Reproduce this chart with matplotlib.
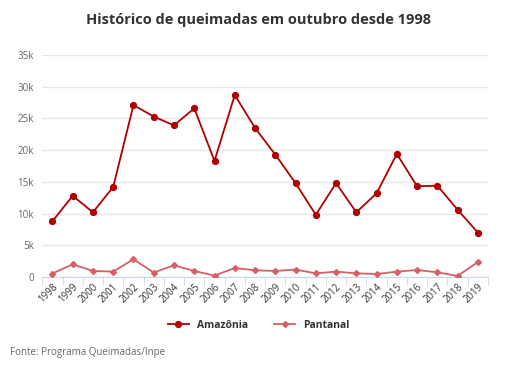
import matplotlib
matplotlib.use("Agg")
import matplotlib.pyplot as plt
from matplotlib.ticker import FixedLocator, FuncFormatter

years = [str(y) for y in range(1998, 2020)]
amazonia = [8.8, 12.8, 10.2, 14.2, 27.1, 25.3, 23.9, 26.6, 18.3, 28.7, 23.5,
            19.3, 14.8, 9.8, 14.8, 10.2, 13.2, 19.4, 14.3, 14.4, 10.6, 7.0]
pantanal = [0.55, 2.0, 0.95, 0.85, 2.8, 0.7, 1.85, 0.95, 0.22, 1.42, 1.06,
            0.95, 1.17, 0.58, 0.85, 0.58, 0.47, 0.85, 1.1, 0.74, 0.16, 2.37]
amazonia = [v * 1000 for v in amazonia]
pantanal = [v * 1000 for v in pantanal]
yticks = [0, 5000, 10000, 15000, 20000, 25000, 30000, 35000]

plt.rcParams['font.family'] = ['Open Sans', 'DejaVu Sans']

fig = plt.figure(figsize=(5.18, 3.66), dpi=100)
ax = fig.add_axes([42.3 / 518, 1 - 277 / 366, (488 - 42.3) / 518, (277 - 55) / 366])

x = list(range(len(years)))
c_am = '#b00000'
c_pa = '#d95f66'
ax.plot(x, amazonia, color=c_am, lw=1.3, marker='o', ms=4.2, label='Amazônia', zorder=3)
ax.plot(x, pantanal, color=c_pa, lw=1.3, marker='D', ms=3, label='Pantanal', zorder=3)

ax.set_xlim(-0.5, len(years) - 0.5)
ax.set_ylim(0, 35000)
ax.yaxis.set_major_locator(FixedLocator(yticks))
ax.yaxis.set_major_formatter(FuncFormatter(lambda v, p: '0' if v == 0 else f'{int(v/1000)}k'))
ax.grid(axis='y', color='#e6e6e6', lw=1)
ax.set_axisbelow(True)
for s in ['top', 'right', 'left']:
    ax.spines[s].set_visible(False)
ax.spines['bottom'].set_color('#ccd6eb')
ax.tick_params(axis='y', length=0, labelsize=7, labelcolor='#666666', pad=6)

ax.set_xticks(x)
ax.set_xticklabels(years, rotation=45, ha='right', rotation_mode='anchor',
                   fontsize=7, color='#333333')
ax.tick_params(axis='x', length=0, pad=3)
ax.set_xticks([i - 0.5 for i in range(len(years) + 1)], minor=True)
ax.tick_params(axis='x', which='minor', length=6, color='#ccd6eb')

fig.text(0.5, 1 - 20 / 366, 'Histórico de queimadas em outubro desde 1998',
         ha='center', va='center', fontsize=10.5, fontweight='bold', color='#333333')

leg = fig.legend(loc='center', bbox_to_anchor=(0.5, 1 - 325 / 366), ncol=2,
                 frameon=False, handlelength=2, columnspacing=2.5,
                 prop={'weight': 'bold', 'size': 7.5})
for t in leg.get_texts():
    t.set_color('#333333')

fig.text(10 / 518, 1 - 353 / 366, 'Fonte: Programa Queimadas/Inpe', ha='left', va='center',
         fontsize=7, color='#666666')

fig.savefig('out.png', dpi=100)
